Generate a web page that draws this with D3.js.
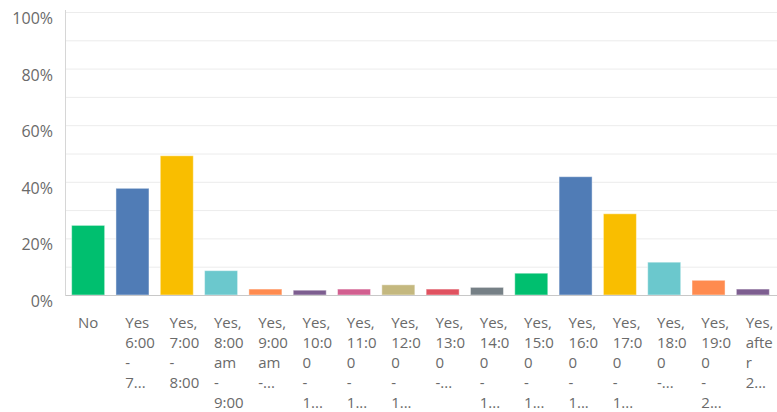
<!DOCTYPE html>
<html>
<head>
<meta charset="utf-8">
<script src="https://cdn.jsdelivr.net/npm/d3@7"></script>
<style>
  html, body { margin: 0; padding: 0; background: #fff; }
  svg { display: block; font-family: "Open Sans", sans-serif; }
</style>
</head>
<body>
<svg id="chart" width="777" height="412"></svg>
<script>
// Answer choices, wrapped and truncated as shown under each bar
const categoryLines = [
  ["No"],
  ["Yes", "6:00", "-", "7..."],
  ["Yes,", "7:00", "-", "8:00"],
  ["Yes,", "8:00", "am", "-", "9:00"],
  ["Yes,", "9:00", "am", "-..."],
  ["Yes,", "10:0", "0", "-", "1..."],
  ["Yes,", "11:0", "0", "-", "1..."],
  ["Yes,", "12:0", "0", "-", "1..."],
  ["Yes,", "13:0", "0", "-..."],
  ["Yes,", "14:0", "0", "-", "1..."],
  ["Yes,", "15:0", "0", "-", "1..."],
  ["Yes,", "16:0", "0", "-", "1..."],
  ["Yes,", "17:0", "0", "-", "1..."],
  ["Yes,", "18:0", "0", "-..."],
  ["Yes,", "19:0", "0", "-", "2..."],
  ["Yes,", "afte", "r", "2..."]
];

// Share of responses per choice, in percent
const values = [24.6, 37.7, 49.2, 8.6, 2.1, 1.7, 2.1, 3.6, 2.1, 2.7, 7.7, 41.8, 28.7, 11.6, 5.2, 2.1];

// Y axis tick labels (percent)
const yTicks = [0, 20, 40, 60, 80, 100];
const yGrid = [10, 20, 30, 40, 50, 60, 70, 80, 90, 100];

const palette = ["#00bf6f", "#507cb6", "#f9be00", "#6bc8cd", "#ff8b4f", "#7d5e90",
                 "#d25f90", "#c4b87f", "#e05260", "#768086"];

const svg = d3.select("#chart");
const plot = { left: 66, right: 775, top: 12, bottom: 295 };

const idx = d3.range(values.length);
const x = d3.scaleBand().domain(idx).range([plot.left, plot.right])
  .paddingInner(0.255).paddingOuter(0.1275);
const y = d3.scaleLinear().domain([0, 100]).range([plot.bottom, plot.top]);

// horizontal gridlines
svg.append("g").selectAll("line").data(yGrid).join("line")
  .attr("x1", plot.left).attr("x2", 777)
  .attr("y1", d => y(d) + 0.5).attr("y2", d => y(d) + 0.5)
  .attr("stroke", "#ececec").attr("stroke-width", 1);

// bars
svg.append("g").selectAll("rect").data(idx).join("rect")
  .attr("x", i => x(i))
  .attr("width", x.bandwidth())
  .attr("y", i => y(values[i]))
  .attr("height", i => y(0) - y(values[i]))
  .attr("fill", i => palette[i % palette.length])
  .attr("stroke", "#ffffff").attr("stroke-opacity", 0.45).attr("stroke-width", 1);

// axis lines
svg.append("line")
  .attr("x1", plot.left - 0.5).attr("x2", plot.left - 0.5)
  .attr("y1", plot.top - 2).attr("y2", plot.bottom + 1)
  .attr("stroke", "#d6d6d6").attr("stroke-width", 1);
svg.append("line")
  .attr("x1", plot.left).attr("x2", 777)
  .attr("y1", plot.bottom + 0.5).attr("y2", plot.bottom + 0.5)
  .attr("stroke", "#c8c8c8").attr("stroke-width", 1.2);

// y tick labels
svg.append("g").selectAll("text").data(yTicks).join("text")
  .attr("x", 53)
  .attr("y", d => y(d) + 12)
  .attr("text-anchor", "end")
  .attr("font-size", 16)
  .attr("fill", "#6a6a6a")
  .text(d => d + "%");

// x category labels
const lab = svg.append("g").selectAll("text").data(idx).join("text")
  .attr("font-size", 15)
  .attr("fill", "#6a6a6a")
  .attr("text-anchor", i => categoryLines[i].length === 1 ? "middle" : "start")
  .attr("transform", i => {
    const cx = x(i) + x.bandwidth() / 2;
    const lx = categoryLines[i].length === 1 ? cx : cx - 7.2;
    return `translate(${lx},328)`;
  });
lab.selectAll("tspan").data(i => categoryLines[i]).join("tspan")
  .attr("x", 0)
  .attr("y", (d, j) => j * 20)
  .text(d => d);
</script>
</body>
</html>
